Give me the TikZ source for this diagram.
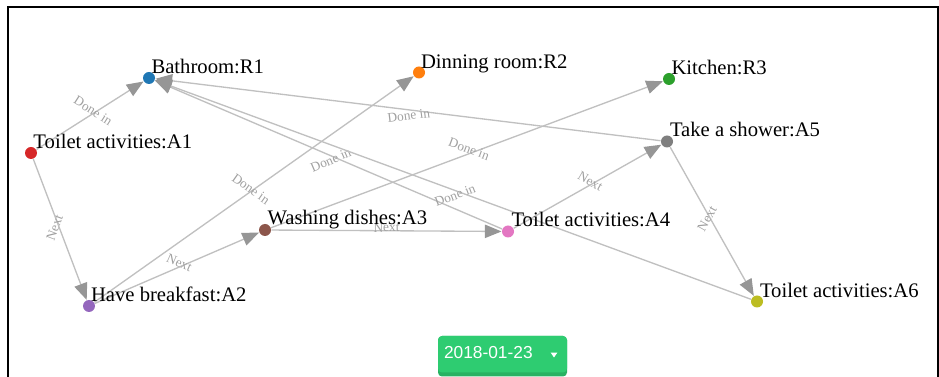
\documentclass[tikz,border=0pt]{standalone}
\usepackage{fontspec}
\setmainfont{Liberation Serif}
\newfontfamily\btnfont{Liberation Sans}
\usetikzlibrary{arrows.meta}

\definecolor{tabblue}{RGB}{31,119,180}
\definecolor{taborange}{RGB}{255,127,14}
\definecolor{tabgreen}{RGB}{44,160,44}
\definecolor{tabred}{RGB}{214,39,40}
\definecolor{tabpurple}{RGB}{148,103,189}
\definecolor{tabbrown}{RGB}{140,86,75}
\definecolor{tabpink}{RGB}{227,119,194}
\definecolor{tabgray}{RGB}{127,127,127}
\definecolor{tabolive}{RGB}{188,189,34}
\definecolor{linkgray}{RGB}{192,192,192}
\definecolor{tipgray}{RGB}{150,150,150}
\definecolor{labelgray}{RGB}{160,160,160}
\definecolor{btngreen}{RGB}{46,204,113}
\definecolor{btnshade}{RGB}{40,178,98}

\tikzset{every picture/.style={line width=0.75pt},
  dot/.style={circle, inner sep=0pt, minimum size=9pt, fill=#1},
  nodetext/.style={anchor=base west, inner sep=0pt, font=\fontsize{15.5}{18}\selectfont},
  link/.style={draw=linkgray, line width=1pt, -{Triangle[length=12.5pt,width=10pt,color=tipgray]}},
  linktext/.style={sloped, midway, inner sep=0.5pt, text=labelgray, font=\fontsize{10}{12}\selectfont},
  btntext/.style={anchor=west, inner sep=0pt, text=white, font=\btnfont\fontsize{13}{15}\selectfont}
}

\begin{document}
\begin{tikzpicture}[x=0.75pt,y=0.75pt,yscale=-1,xscale=1]
\useasboundingbox (0,0) rectangle (939,377);

%Shape: Frame
\draw [line width=1.5pt] (7.5,377) -- (7.5,7.5) -- (938.3,7.5) -- (938.3,377) ;

%Shape: Circle
\node [dot=tabblue] (r1) at (149,78) {};
\node [dot=taborange] (r2) at (419,72.5) {};
\node [dot=tabgreen] (r3) at (669,79) {};
\node [dot=tabred] (a1) at (31,153) {};
\node [dot=tabpurple] (a2) at (89,306) {};
\node [dot=tabbrown] (a3) at (265,230) {};
\node [dot=tabpink] (a4) at (508,231.5) {};
\node [dot=tabgray] (a5) at (667,141.5) {};
\node [dot=tabolive] (a6) at (757,301.5) {};

%Straight Lines
\draw [link] (a1) -- node [linktext, above] {Done in} (r1) ;
\draw [link] (a1) -- node [linktext, above] {Next} (a2) ;
\draw [link] (a2) -- node [linktext, above] {Next} (a3) ;
\draw [link] (a2) -- node [linktext, above, pos=0.48] {Done in} (r2) ;
\draw [link] (a3) -- node [linktext, above=-2pt] {Next} (a4) ;
\draw [link] (a3) -- node [linktext, above] {Done in} (r3) ;
\draw [link] (a4) -- node [linktext, below] {Done in} (r1) ;
\draw [link] (a4) -- node [linktext, above] {Next} (a5) ;
\draw [link] (a5) -- node [linktext, below] {Done in} (r1) ;
\draw [link] (a5) -- node [linktext, above] {Next} (a6) ;
\draw [link] (a6) -- node [linktext, below] {Done in} (r1) ;

% Text Node
\node [nodetext] (r1t) at ([shift={(2,-4)}]r1.center) {Bathroom:R1};
\node [nodetext] (r2t) at ([shift={(1.5,-3.5)}]r2.center) {Dinning room:R2};
\node [nodetext] (r3t) at ([shift={(2,-4)}]r3.center) {Kitchen:R3};
\node [nodetext] (a1t) at ([shift={(2,-4)}]a1.center) {Toilet activities:A1};
\node [nodetext] (a2t) at ([shift={(1.5,-4.5)}]a2.center) {Have breakfast:A2};
\node [nodetext] (a3t) at ([shift={(2,-5)}]a3.center) {Washing dishes:A3};
\node [nodetext] (a4t) at ([shift={(3,-5)}]a4.center) {Toilet activities:A4};
\node [nodetext] (a5t) at ([shift={(2.5,-4.5)}]a5.center) {Take a shower:A5};
\node [nodetext] (a6t) at ([shift={(2.5,-3.5)}]a6.center) {Toilet activities:A6};

%Shape: Button
\fill [btnshade, rounded corners=3pt] (438,336) rectangle (567,376.5) ;
\fill [btngreen, rounded corners=3pt] (438,336) rectangle (567,372.5) ;
\node [btntext] (datetext) at (443.5,352.5) {2018-01-23};
\fill [white] (550.7,352.7) -- (557.3,352.7) -- (554,357.5) -- cycle ;

\end{tikzpicture}
\end{document}
